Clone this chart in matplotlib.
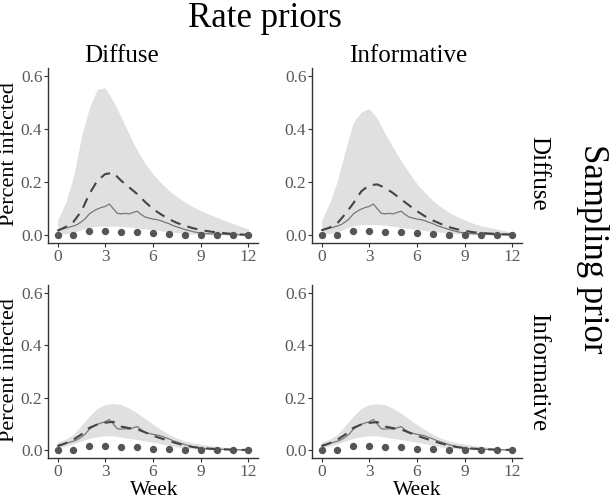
import numpy as np
import matplotlib
matplotlib.use("Agg")
import matplotlib.pyplot as plt

plt.rcParams['font.family'] = ['Liberation Serif', 'DejaVu Serif']

# observed weekly counts (dots), shared by every panel
weeks = [0, 1, 2, 3, 4, 5, 6, 7, 8, 9, 10, 11, 12]
observed = [0.001, 0.001, 0.015, 0.016, 0.011, 0.011, 0.006, 0.004, 0.002, 0.001, 0.001, 0.001, 0.001]

# true infection curve (thin solid line), shared, quarter-week steps
weeks_q = np.arange(0, 12.01, 0.25)
true_curve = [0.018, 0.022, 0.026, 0.030, 0.034, 0.040, 0.050, 0.062, 0.080, 0.090,
              0.098, 0.104, 0.108, 0.117, 0.100, 0.082, 0.080, 0.082, 0.080, 0.085,
              0.090, 0.078, 0.068, 0.064, 0.060, 0.058, 0.054, 0.048, 0.043, 0.036,
              0.031, 0.026, 0.021, 0.017, 0.013, 0.010, 0.008, 0.006, 0.005, 0.004,
              0.004, 0.003, 0.003, 0.002, 0.002, 0.002, 0.001, 0.001, 0.001]

# posterior summaries per panel, half-week steps
weeks_h = np.arange(0, 12.01, 0.5)

# sampling diffuse / rate diffuse
dd_mean = [0.016, 0.030, 0.050, 0.090, 0.155, 0.205, 0.230, 0.235, 0.205, 0.180,
           0.155, 0.125, 0.098, 0.078, 0.060, 0.046, 0.035, 0.026, 0.019, 0.014,
           0.010, 0.007, 0.004, 0.002, 0.001]
dd_hi = [0.057, 0.120, 0.220, 0.370, 0.480, 0.550, 0.555, 0.505, 0.445, 0.380,
         0.320, 0.270, 0.230, 0.197, 0.168, 0.145, 0.124, 0.107, 0.092, 0.079,
         0.067, 0.055, 0.044, 0.033, 0.023]
dd_lo = [0.002, 0.005, 0.010, 0.020, 0.030, 0.033, 0.034, 0.034, 0.033, 0.030,
         0.027, 0.023, 0.020, 0.016, 0.012, 0.009, 0.006, 0.004, 0.003, 0.002,
         0.002, 0.001, 0.001, 0.000, 0.000]

# sampling diffuse / rate informative
di_mean = [0.018, 0.028, 0.045, 0.080, 0.120, 0.165, 0.188, 0.191, 0.178, 0.158,
           0.135, 0.112, 0.090, 0.071, 0.055, 0.042, 0.030, 0.022, 0.016, 0.011,
           0.008, 0.006, 0.004, 0.003, 0.002]
di_hi = [0.054, 0.120, 0.205, 0.320, 0.426, 0.464, 0.477, 0.440, 0.382, 0.330,
         0.280, 0.235, 0.193, 0.160, 0.130, 0.106, 0.086, 0.070, 0.057, 0.045,
         0.035, 0.029, 0.023, 0.016, 0.010]
di_lo = [0.003, 0.006, 0.012, 0.024, 0.035, 0.039, 0.040, 0.039, 0.037, 0.033,
         0.029, 0.025, 0.021, 0.017, 0.013, 0.010, 0.007, 0.005, 0.003, 0.002,
         0.002, 0.001, 0.001, 0.000, 0.000]

# sampling informative / rate diffuse
id_mean = [0.015, 0.026, 0.040, 0.060, 0.085, 0.098, 0.105, 0.108, 0.090, 0.084,
           0.080, 0.068, 0.055, 0.045, 0.035, 0.026, 0.018, 0.012, 0.008, 0.006,
           0.004, 0.003, 0.002, 0.001, 0.001]
id_hi = [0.030, 0.042, 0.060, 0.095, 0.130, 0.160, 0.174, 0.178, 0.174, 0.160,
         0.142, 0.120, 0.098, 0.078, 0.060, 0.046, 0.035, 0.028, 0.023, 0.018,
         0.014, 0.011, 0.008, 0.006, 0.004]
id_lo = [0.008, 0.015, 0.025, 0.035, 0.045, 0.051, 0.055, 0.054, 0.050, 0.045,
         0.040, 0.035, 0.030, 0.024, 0.018, 0.012, 0.008, 0.005, 0.003, 0.002,
         0.001, 0.001, 0.001, 0.000, 0.000]

# sampling informative / rate informative
ii_mean = [0.015, 0.026, 0.040, 0.060, 0.085, 0.098, 0.104, 0.107, 0.090, 0.084,
           0.079, 0.067, 0.055, 0.045, 0.035, 0.026, 0.018, 0.012, 0.008, 0.006,
           0.004, 0.003, 0.002, 0.001, 0.001]
ii_hi = [0.030, 0.042, 0.060, 0.095, 0.130, 0.160, 0.174, 0.177, 0.173, 0.159,
         0.141, 0.119, 0.097, 0.078, 0.060, 0.046, 0.035, 0.028, 0.023, 0.018,
         0.014, 0.011, 0.008, 0.006, 0.004]
ii_lo = id_lo

W, H = 611, 499
fig = plt.figure(figsize=(W / 100, H / 100), dpi=100)


def panel(left, top, right, bottom, mean, hi, lo):
    ax = fig.add_axes([left / W, 1 - bottom / H, (right - left) / W, (bottom - top) / H])
    ax.fill_between(weeks_h, lo, hi, color='#e0e0e0', lw=0)
    ax.plot(weeks_q, true_curve, color='#777777', lw=0.9)
    ax.plot(weeks_h, mean, color='#444444', lw=1.5, dashes=(5, 3.5))
    ax.scatter(weeks, observed, s=28, color='#555555', zorder=5, lw=0)
    ax.set_xlim(-0.6, 12.6)
    ax.set_ylim(-0.03, 0.63)
    ax.set_xticks([0, 3, 6, 9, 12])
    ax.set_yticks([0, 0.2, 0.4, 0.6])
    ax.set_yticklabels(['0.0', '0.2', '0.4', '0.6'])
    for s in ['top', 'right']:
        ax.spines[s].set_visible(False)
    for s in ['left', 'bottom']:
        ax.spines[s].set_color('#333333')
        ax.spines[s].set_linewidth(1.0)
    ax.tick_params(labelsize=12.5, colors='#333333', labelcolor='#5a5a5a', length=3, width=0.8, pad=1)
    return ax


panel(48, 68, 258, 243, dd_mean, dd_hi, dd_lo)
panel(312, 68, 522, 243, di_mean, di_hi, di_lo)
panel(48, 285, 258, 458, id_mean, id_hi, id_lo)
panel(312, 285, 522, 458, ii_mean, ii_hi, ii_lo)

fig.text(265 / W, 1 - 27 / H, 'Rate priors', fontsize=25, ha='center', va='baseline')
fig.text(122 / W, 1 - 62 / H, 'Diffuse', fontsize=18, ha='center', va='baseline')
fig.text(408 / W, 1 - 62 / H, 'Informative', fontsize=18, ha='center', va='baseline')
fig.text(538 / W, 1 - 173 / H, 'Diffuse', fontsize=18, ha='center', va='center', rotation=270)
fig.text(538 / W, 1 - 372 / H, 'Informative', fontsize=18, ha='center', va='center', rotation=270)
fig.text(593 / W, 1 - 249 / H, 'Sampling prior', fontsize=25, ha='center', va='center', rotation=270)
fig.text(10 / W, 1 - 154 / H, 'Percent infected', fontsize=16, ha='center', va='center', rotation=90)
fig.text(10 / W, 1 - 370 / H, 'Percent infected', fontsize=16, ha='center', va='center', rotation=90)
fig.text(154 / W, 1 - 495 / H, 'Week', fontsize=15.5, ha='center', va='baseline')
fig.text(417 / W, 1 - 495 / H, 'Week', fontsize=15.5, ha='center', va='baseline')

fig.savefig('out.png', dpi=100)
